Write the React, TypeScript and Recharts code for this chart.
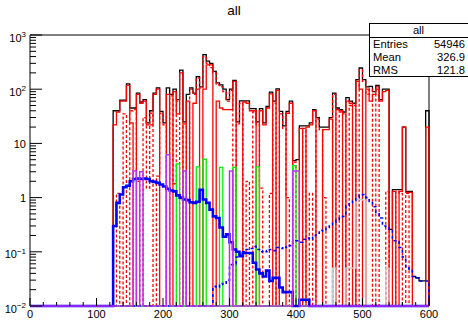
import React from "react";
import { ComposedChart, Line, XAxis, YAxis, ReferenceArea } from "recharts";

const FONT = "'Liberation Sans', Arial, Helvetica, sans-serif";

const X_MIN = 0;
const X_MAX = 600;
const Y_MIN = 0.01;
const Y_MAX = 1000;
const BIN_START = 125;
const BIN_WIDTH = 5;

// "all" total, one value per 5-unit bin from 125 to 595
const totalCounts = [
  40, 40, 63, 63, 125, 45, 45, 85, 58, 64, // 125-170
  24, 40, 85, 106, 39, 24, 106, 80, 100, 64, // 175-220
  225, 25, 80, 106, 85, 170, 110, 435, 330, 300, // 225-270
  214, 131, 120, 100, 64, 100, 146, 25, 61, 61, // 275-320
  61, 44, 44, 25, 44, 24, 48, 88, 60, 101, // 325-370
  39, 21, 39, 60, 4.8, 5, 21, 21, 21, 24, // 375-420
  42, 30, 20, 20, 20, 30, 85, 45, 42, 38, // 425-470
  70, 60, 55, 150, 246, 150, 110, 113, 90, 117, // 475-520
  64, 100, 100, 0.26, 1.4, 1.4, 1.4, 20, 1.3, 1.3, // 525-570
  0.035, 0.033, 0.029, 0.029, 40, // 575-595
];

// red solid component (0 = empty bin)
const redSolid = [
  22, 38, 60, 60, 118, 24, 0, 80, 55, 60,
  22, 22, 80, 100, 0, 0, 80, 0, 90, 35,
  200, 0, 60, 0, 55, 100, 0, 100, 280, 280,
  0, 60, 45, 42, 42, 42, 140, 0, 0, 58,
  55, 40, 40, 0, 40, 22, 45, 82, 0, 95,
  0, 0, 36, 55, 0, 0, 19, 0, 20, 22,
  40, 0, 0, 18, 18, 28, 0, 42, 40, 0,
  60, 55, 0, 140, 100, 0, 100, 60, 80, 100,
  60, 90, 95, 0, 1.3, 0, 1.3, 20, 1.25, 1.25,
  0, 0, 0, 0, 20,
];

// red dashed component
const redDashed = [
  0, 1.2, 0, 35, 0, 40, 42, 2, 0, 30,
  1.5, 36, 0, 2.5, 36, 22, 0, 75, 1.8, 60,
  0, 23, 0, 100, 80, 160, 105, 400, 300, 250,
  200, 120, 110, 90, 60, 95, 0, 23, 55, 0,
  2, 0, 38, 22, 1.5, 0, 0, 1.2, 55, 0,
  35, 19, 1, 0, 4.5, 0, 0, 19, 0, 1.2,
  0, 28, 18, 1, 0, 0, 80, 0, 38, 35,
  0, 50, 50, 0, 230, 140, 80, 100, 0, 110,
  0, 0, 1.3, 0, 0, 1.3, 1.2, 0, 1.2, 0,
  0, 0, 0, 0, 0,
];

// thick blue, bins 125-415
const blueSolid = [
  0.3, 0.8, 1.14, 1.55, 1.65, 2.0, 2.2, 2.25, 2.2, 2.25,
  2.2, 2.0, 1.95, 1.87, 1.75, 1.6, 1.45, 1.35, 1.3, 1.1,
  1.0, 0.92, 0.9, 0.82, 0.8, 0.84, 1.4, 0.92, 0.8, 0.6,
  0.45, 0.42, 0.28, 0.19, 0.21, 0.15, 0.11, 0.1, 0.083, 0.095,
  0.095, 0.095, 0.063, 0.047, 0.04, 0.035, 0.045, 0.029, 0.033, 0.033,
  0.022, 0.018, 0.018, 0.018, 0, 0, 0.013, 0.013, 0.013,
];

// dotted blue, bins 275-595
const BLUE_DOTTED_START = 275;
const blueDotted = [
  0.023, 0.022, 0.026, 0.025, 0.03, 0.058, 0.06, 0.08, 0.09, 0.1,
  0.11, 0.115, 0.126, 0.11, 0.1, 0.105, 0.1, 0.11, 0.105, 0.12,
  0.115, 0.125, 0.12, 0.13, 0.155, 0.16, 0.15, 0.17, 0.18, 0.17,
  0.2, 0.22, 0.25, 0.24, 0.28, 0.3, 0.35, 0.38, 0.42, 0.45,
  0.7, 0.8, 0.9, 1.0, 1.1, 1.14, 1.0, 0.85, 0.68, 0.53,
  0.42, 0.3, 0.28, 0.26, 0.16, 0.155, 0.12, 0.08, 0.05, 0.045,
  0.035, 0.033, 0.029, 0.029, 0.029,
];

// sparse components: bin lower edge -> content
const greenBins = [220, 250, 260, 285, 305, 340, 395];
const greenValues = [4.2, 3.7, 5.1, 3.6, 3.6, 3.7, 3.9];
const violetBins = [155, 165, 205, 230, 300, 395, 400];
const violetValues = [3.1, 3.0, 6.2, 3.1, 3.1, 3.1, 3.1];
const grayBins = [455, 475, 480, 485, 490, 495, 500, 535];
const grayValues = [0.05, 0.05, 0.05, 0.05, 0.92, 0.92, 0.9, 0.05];

const statsTitle = "all";
const statsLabels = ["Entries", "Mean", "RMS"];
const statsValues = ["54946", "326.9", "121.8"];

// build step table (empty bins sit on the log floor like ROOT draws them)
const clampLog = (v: number) => (v > Y_MIN ? v : Y_MIN);
const fromArray = (arr: number[], start: number) => (x: number) => {
  const i = Math.round((x - start) / BIN_WIDTH);
  return i >= 0 && i < arr.length ? arr[i] : 0;
};
const fromPairs = (bins: number[], vals: number[]) => (x: number) => {
  const i = bins.indexOf(x);
  return i >= 0 ? vals[i] : 0;
};

const edges: number[] = [X_MIN];
totalCounts.forEach((_, i) => edges.push(BIN_START + i * BIN_WIDTH));
edges.push(X_MAX);

const getTotal = fromArray(totalCounts, BIN_START);
const getRed = fromArray(redSolid, BIN_START);
const getRedDash = fromArray(redDashed, BIN_START);
const getBlue = fromArray(blueSolid, BIN_START);
const getBlueDot = fromArray(blueDotted, BLUE_DOTTED_START);
const getGreen = fromPairs(greenBins, greenValues);
const getViolet = fromPairs(violetBins, violetValues);
const getGray = fromPairs(grayBins, grayValues);

const data = edges.map((x) => ({
  x,
  total: clampLog(getTotal(x)),
  red: clampLog(getRed(x)),
  redDash: clampLog(getRedDash(x)),
  blue: clampLog(getBlue(x)),
  blueDot: clampLog(getBlueDot(x)),
  green: clampLog(getGreen(x)),
  violet: clampLog(getViolet(x)),
  gray: clampLog(getGray(x)),
}));

// axis ticks: decades + 2..9 minors on y, every 20 on x
const yTicks: number[] = [];
for (let e = -2; e <= 3; e++) {
  for (let m = 1; m <= 9; m++) {
    const v = m * Math.pow(10, e);
    if (v <= Y_MAX * 1.0001) yTicks.push(Number(v.toPrecision(3)));
  }
}
const xTicks: number[] = [];
for (let v = X_MIN; v <= X_MAX; v += 20) xTicks.push(v);

const YTick = (props: any) => {
  const { x, y, payload } = props;
  const v = payload.value;
  const exp = Math.round(Math.log10(v));
  const isMajor = Math.abs(Math.log10(v) - exp) < 1e-6;
  let label = null;
  if (isMajor) {
    if (exp === 0 || exp === 1) {
      label = (
        <text x={x - 4} y={y + 4.5} textAnchor="end" fontSize={11} fontFamily={FONT} fill="#000">
          {exp === 0 ? "1" : "10"}
        </text>
      );
    } else {
      label = (
        <text x={x - 4} y={y + 6.5} textAnchor="end" fontSize={11} fontFamily={FONT} fill="#000">
          <tspan>10</tspan>
          <tspan dy={-4.5} fontSize={8}>
            {exp < 0 ? "\u2212" + String(-exp) : String(exp)}
          </tspan>
        </text>
      );
    }
  }
  return (
    <g>
      <line x1={x} y1={y} x2={x + (isMajor ? 12 : 6)} y2={y} stroke="#000" strokeWidth={1} />
      {label}
    </g>
  );
};

const XTick = (props: any) => {
  const { x, y, payload } = props;
  const v = payload.value;
  const isMajor = v % 100 === 0;
  return (
    <g>
      <line x1={x} y1={y} x2={x} y2={y - (isMajor ? 8 : 4)} stroke="#000" strokeWidth={1} />
      {isMajor && (
        <text x={x} y={y + 11.5} textAnchor="middle" fontSize={11} fontFamily={FONT} fill="#000">
          {v}
        </text>
      )}
    </g>
  );
};

const App = () => {
  return (
    <div
      style={{
        position: "absolute",
        left: 0,
        top: 0,
        width: 468,
        height: 324,
        background: "#fff",
        fontFamily: FONT,
        overflow: "hidden",
      }}
    >
      <div
        style={{
          position: "absolute",
          left: 0,
          top: 3,
          width: 468,
          textAlign: "center",
          fontSize: 13.5,
          color: "#000",
        }}
      >
        all
      </div>

      <ComposedChart
        width={468}
        height={324}
        data={data}
        margin={{ top: 35, right: 39, bottom: 0, left: 0 }}
      >
        <XAxis
          dataKey="x"
          type="number"
          domain={[X_MIN, X_MAX]}
          ticks={xTicks}
          interval={0}
          height={18}
          axisLine={false}
          tickLine={false}
          tickSize={0}
          tickMargin={0}
          tick={(p: any) => <XTick {...p} />}
        />
        <YAxis
          type="number"
          scale="log"
          domain={[Y_MIN, Y_MAX]}
          ticks={yTicks}
          interval={0}
          width={30}
          axisLine={false}
          tickLine={false}
          tickSize={0}
          tickMargin={0}
          tick={(p: any) => <YTick {...p} />}
        />

        <Line type="stepAfter" dataKey="total" stroke="#000" strokeWidth={1.3} dot={false} isAnimationActive={false} />
        <Line type="stepAfter" dataKey="red" stroke="#ff0000" strokeWidth={1.3} dot={false} isAnimationActive={false} />
        <Line
          type="stepAfter"
          dataKey="redDash"
          stroke="#ff0000"
          strokeWidth={1.3}
          strokeDasharray="3 2"
          dot={false}
          isAnimationActive={false}
        />
        <Line type="stepAfter" dataKey="gray" stroke="#c8c8c8" strokeWidth={1.3} dot={false} isAnimationActive={false} />
        <Line type="stepAfter" dataKey="green" stroke="#00ee00" strokeWidth={1.3} dot={false} isAnimationActive={false} />
        <Line
          type="stepAfter"
          dataKey="blueDot"
          stroke="#0000ff"
          strokeWidth={1.6}
          strokeDasharray="3 3"
          dot={false}
          isAnimationActive={false}
        />
        <Line type="stepAfter" dataKey="blue" stroke="#0000ff" strokeWidth={2.6} dot={false} isAnimationActive={false} />
        <Line type="stepAfter" dataKey="violet" stroke="#c030f0" strokeWidth={1.5} dot={false} isAnimationActive={false} />

        <ReferenceArea
          x1={X_MIN}
          x2={X_MAX}
          y1={Y_MIN}
          y2={Y_MAX}
          fill="none"
          fillOpacity={0}
          stroke="#000"
          strokeWidth={1}
          ifOverflow="visible"
        />
      </ComposedChart>

      {/* stats box */}
      <div
        style={{
          position: "absolute",
          zIndex: 10,
          left: 369,
          top: 23,
          width: 100,
          height: 54,
          boxSizing: "border-box",
          border: "1px solid #000",
          background: "#fff",
          fontSize: 11.2,
          color: "#000",
          lineHeight: "13px",
        }}
      >
        <div style={{ position: "absolute", left: 0, top: 0, width: 97, height: 13, textAlign: "center" }}>
          {statsTitle}
        </div>
        <div style={{ position: "absolute", left: 0, top: 13, width: 100, height: 0, borderTop: "1px solid #000" }} />
        {statsLabels.map((label, i) => (
          <React.Fragment key={label}>
            <div style={{ position: "absolute", left: 3, top: 14.3 + i * 12.8, height: 13 }}>{label}</div>
            <div style={{ position: "absolute", right: 3, top: 14.3 + i * 12.8, height: 13, textAlign: "right" }}>
              {statsValues[i]}
            </div>
          </React.Fragment>
        ))}
      </div>
    </div>
  );
};

export default App;
